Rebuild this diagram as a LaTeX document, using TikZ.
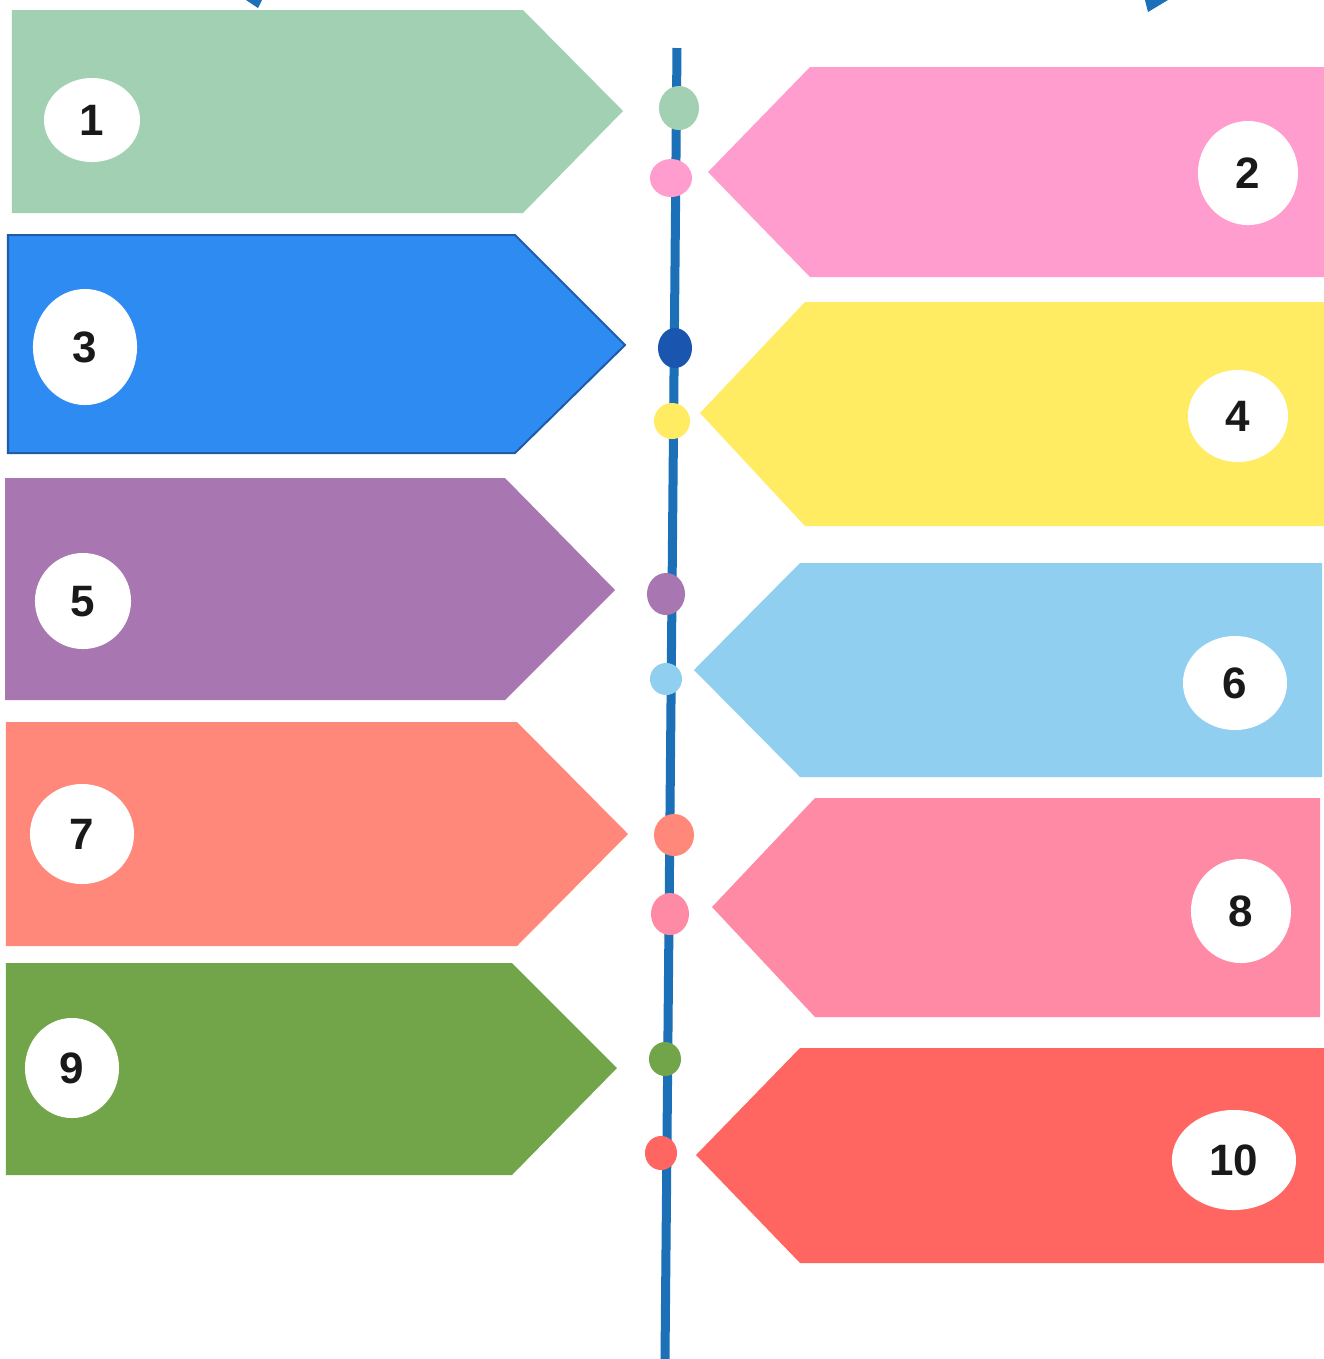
\documentclass[tikz,border=0pt]{standalone}
\usepackage{fontspec}
\setmainfont{Liberation Sans}
\usepackage{xcolor}
\usepackage{tikz}
\usetikzlibrary{shapes.geometric}
\definecolor{sage}{HTML}{A2D0B2}
\definecolor{rosy}{HTML}{FF9ECE}
\definecolor{royal}{HTML}{2E8BF2}
\definecolor{royaledge}{HTML}{1F5CA8}
\definecolor{lemon}{HTML}{FFEC62}
\definecolor{plum}{HTML}{A876B0}
\definecolor{sky}{HTML}{90CFF0}
\definecolor{salmon}{HTML}{FF887A}
\definecolor{blush}{HTML}{FF8AA6}
\definecolor{moss}{HTML}{72A44A}
\definecolor{coral}{HTML}{FF6662}
\definecolor{spineblue}{HTML}{1C70B8}
\definecolor{deepblue}{HTML}{1A55B0}

\begin{document}
\begin{tikzpicture}[
  x=0.01cm, y=-0.01cm,
  font=\bfseries\fontsize{12.5}{13}\selectfont,
  tag/.style={draw=none},
  num/.style={ellipse, fill=white, inner sep=0pt, text=black!90, text depth=-0.06cm},
  bead/.style={ellipse, inner sep=0pt, draw=none},
  spine/.style={draw=spineblue, line width=0.09cm}
]
  \useasboundingbox[fill=white] (0,0) rectangle (1324,1359);

  % left tags
  \fill[tag, sage] (12,10) -- (523,10) -- (623,111) -- (523,213) -- (12,213) -- cycle;
  \filldraw[royal, draw=royaledge, line width=0.02cm] (8,235) -- (515,235) -- (625,345) -- (515,453) -- (8,453) -- cycle;
  \fill[tag, plum] (5,478) -- (505,478) -- (615,590) -- (505,700) -- (5,700) -- cycle;
  \fill[tag, salmon] (6,722) -- (517,722) -- (628,834) -- (517,946) -- (6,946) -- cycle;
  \fill[tag, moss] (6,963) -- (512,963) -- (617,1068) -- (512,1175) -- (6,1175) -- cycle;

  % right tags
  \fill[tag, rosy] (1324,67) -- (810,67) -- (708,172) -- (810,277) -- (1324,277) -- cycle;
  \fill[tag, lemon] (1324,302) -- (805,302) -- (700,413) -- (805,526) -- (1324,526) -- cycle;
  \fill[tag, sky] (1322,563) -- (800,563) -- (694,670) -- (800,777) -- (1322,777) -- cycle;
  \fill[tag, blush] (1320,798) -- (815,798) -- (712,907) -- (815,1017) -- (1320,1017) -- cycle;
  \fill[tag, coral] (1324,1048) -- (800,1048) -- (696,1155) -- (800,1263) -- (1324,1263) -- cycle;

  % cut-off marks at the top edge
  \fill[spineblue] (246,0) -- (262,0) -- (258,8) -- cycle;
  \fill[spineblue] (1145,0) -- (1168,0) -- (1148,12) -- cycle;

  % number badges
  \node[num, minimum width=0.96cm, minimum height=0.84cm] (n1) at (92,120) {1};
  \node[num, minimum width=1.00cm, minimum height=1.04cm] (n2) at (1248,173) {2};
  \node[num, minimum width=1.04cm, minimum height=1.16cm] (n3) at (85,347) {3};
  \node[num, minimum width=1.00cm, minimum height=0.92cm] (n4) at (1238,416) {4};
  \node[num, minimum width=0.96cm, minimum height=0.96cm] (n5) at (83,601) {5};
  \node[num, minimum width=1.04cm, minimum height=0.94cm] (n6) at (1235,683) {6};
  \node[num, minimum width=1.04cm, minimum height=1.00cm] (n7) at (82,834) {7};
  \node[num, minimum width=1.00cm, minimum height=1.04cm] (n8) at (1241,911) {8};
  \node[num, minimum width=0.94cm, minimum height=1.00cm] (n9) at (72,1068) {9};
  \node[num, minimum width=1.24cm, minimum height=1.00cm] (n10) at (1234,1160) {10};

  % timeline
  \coordinate (ltop) at (677,48);
  \coordinate (lbot) at (665,1359);
  \draw[spine] (ltop) -- (lbot);

  \node[bead, fill=sage, minimum width=0.40cm, minimum height=0.44cm] (b1) at (679,108) {};
  \node[bead, fill=rosy, minimum width=0.42cm, minimum height=0.38cm] (b2) at (671,178) {};
  \node[bead, fill=deepblue, minimum width=0.34cm, minimum height=0.40cm] (b3) at (675,348) {};
  \node[bead, fill=lemon, minimum width=0.36cm, minimum height=0.36cm] (b4) at (672,421) {};
  \node[bead, fill=plum, minimum width=0.38cm, minimum height=0.42cm] (b5) at (666,594) {};
  \node[bead, fill=sky, minimum width=0.32cm, minimum height=0.32cm] (b6) at (666,679) {};
  \node[bead, fill=salmon, minimum width=0.40cm, minimum height=0.42cm] (b7) at (674,835) {};
  \node[bead, fill=blush, minimum width=0.38cm, minimum height=0.42cm] (b8) at (670,914) {};
  \node[bead, fill=moss, minimum width=0.32cm, minimum height=0.34cm] (b9) at (665,1059) {};
  \node[bead, fill=coral, minimum width=0.32cm, minimum height=0.34cm] (b10) at (661,1153) {};
\end{tikzpicture}
\end{document}
